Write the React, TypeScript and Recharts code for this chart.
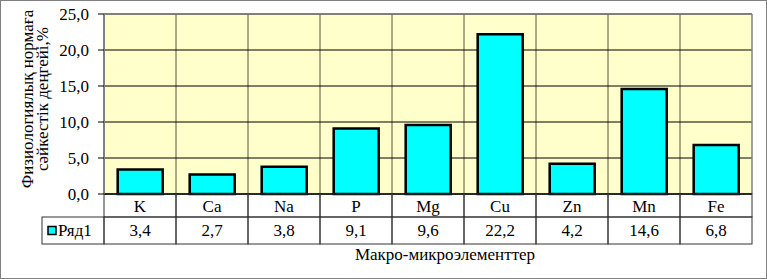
import { BarChart, Bar, XAxis, YAxis, CartesianGrid, ReferenceLine, Label } from 'recharts';

const categories = ['K', 'Ca', 'Na', 'P', 'Mg', 'Cu', 'Zn', 'Mn', 'Fe'];
const values = [3.4, 2.7, 3.8, 9.1, 9.6, 22.2, 4.2, 14.6, 6.8];
const yTicks = [0, 5, 10, 15, 20, 25];
const seriesName = 'Ряд1';
const yTitle = ['Физиологиялық нормаға', 'сәйкестік деңгейі,%'];
const xTitle = 'Макро-микроэлементтер';

const W = 765;
const H = 277;
const Y_AXIS_W = 103;
const MARGIN = { top: 13, right: 14, left: 0, bottom: 14 };
const X_AXIS_H = 70;
const ROW1 = 23;
const ROW2 = 27;
const LEGEND_W = 62;
const FONT = "'Liberation Serif', 'Times New Roman', 'DejaVu Serif', serif";
const FS = 17;
const txt = { fontFamily: FONT, fontSize: FS, fill: '#000' };

const cellW = (W - Y_AXIS_W - MARGIN.left - MARGIN.right) / categories.length;
const fmt = (v: number) => v.toFixed(1).replace('.', ',');

const data = categories.map((c, i) => ({ name: c, value: values[i] }));

const TableTick = (props: any) => {
  const { x, y, payload } = props;
  const i = categories.indexOf(payload.value);
  const left = x - cellW / 2;
  return (
    <g>
      <rect x={left} y={y} width={cellW} height={ROW1} fill="none" stroke="#333" strokeWidth={1} />
      <text style={txt} fontFamily={FONT} x={x} y={y + ROW1 / 2 + 1} textAnchor="middle" dominantBaseline="central">
        {payload.value}
      </text>
      <rect x={left} y={y + ROW1} width={cellW} height={ROW2} fill="none" stroke="#333" strokeWidth={1} />
      <text style={txt} fontFamily={FONT} x={x} y={y + ROW1 + ROW2 / 2} textAnchor="middle" dominantBaseline="central">
        {fmt(values[i])}
      </text>
      {i === 0 && (
        <g>
          <rect x={left - LEGEND_W} y={y + ROW1} width={LEGEND_W} height={ROW2} fill="none" stroke="#333" strokeWidth={1} />
          <rect x={left - LEGEND_W + 6} y={y + ROW1 + ROW2 / 2 - 4} width={8} height={8} fill="#00FFFF" stroke="#000" strokeWidth={1.5} />
          <text style={txt} fontFamily={FONT} x={left - LEGEND_W + 16} y={y + ROW1 + ROW2 / 2} dominantBaseline="central">
            {seriesName}
          </text>
        </g>
      )}
    </g>
  );
};

const YTitle = (props: any) => {
  const { viewBox } = props;
  const cy = viewBox.y + viewBox.height / 2 - 5;
  const xs = [viewBox.x + 26, viewBox.x + 41];
  return (
    <g>
      {yTitle.map((t, k) => (
        <text
          key={k}
          style={txt}
          fontFamily={FONT}
          x={xs[k]}
          y={cy}
          textAnchor="middle"
          dominantBaseline="central"
          transform={`rotate(-90, ${xs[k]}, ${cy})`}
        >
          {t}
        </text>
      ))}
    </g>
  );
};

const XTitle = (props: any) => {
  const { viewBox } = props;
  return (
    <text
      style={txt}
      fontFamily={FONT}
      x={viewBox.x + viewBox.width / 2 + 17}
      y={viewBox.y + 60}
      textAnchor="middle"
      dominantBaseline="central"
    >
      {xTitle}
    </text>
  );
};

export default function App() {
  return (
    <div
      style={{
        position: 'absolute',
        top: 0,
        left: 0,
        width: 767,
        height: 279,
        boxSizing: 'border-box',
        border: '1px solid #808080',
        background: '#fff',
        fontFamily: FONT,
      }}
    >
      <BarChart width={W} height={H} data={data} margin={MARGIN} barCategoryGap="19%" style={{ fontFamily: FONT }}>
        <CartesianGrid horizontal={false} vertical stroke="#55553a" fill="#FFFFCC"
          verticalCoordinatesGenerator={({ offset }: any) =>
            categories.map((_, i) => offset.left + i * (offset.width / categories.length)).slice(1)
          }
        />
        <CartesianGrid horizontal vertical={false} stroke="#000" />
        <ReferenceLine y={25} stroke="#808080" strokeWidth={1.5} />
        <ReferenceLine x={categories[categories.length - 1]} position="end" stroke="#808080" strokeWidth={1.5} />
        <XAxis
          dataKey="name"
          height={X_AXIS_H}
          tickLine={false}
          tickSize={0}
          tickMargin={0}
          axisLine={{ stroke: '#000', strokeWidth: 1.5 }}
          tick={<TableTick />}
          interval={0}
        >
          <Label content={<XTitle />} />
        </XAxis>
        <YAxis
          width={Y_AXIS_W}
          domain={[0, 25]}
          ticks={yTicks}
          tickFormatter={fmt}
          axisLine={{ stroke: '#808080', strokeWidth: 2 }}
          tickLine={{ stroke: '#000' }}
          tickSize={6}
          tickMargin={9}
          tick={{ fill: '#000', fontSize: FS, fontFamily: FONT }}
        >
          <Label content={<YTitle />} />
        </YAxis>
        <Bar dataKey="value" fill="#00FFFF" stroke="#000" strokeWidth={2.5} isAnimationActive={false} />
      </BarChart>
    </div>
  );
}
